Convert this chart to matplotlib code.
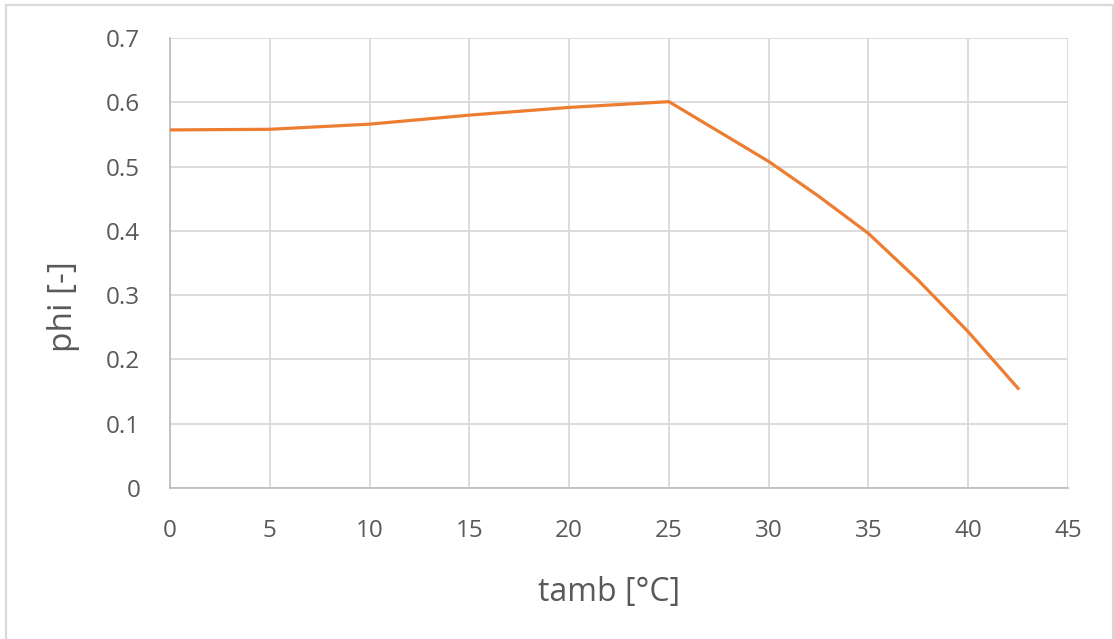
import matplotlib
matplotlib.use("Agg")
import matplotlib.pyplot as plt
from matplotlib.patches import Rectangle

# ambient temperature [°C] and phi [-]
t_amb = [0, 5, 10, 15, 20, 25, 30, 32.5, 35, 37.5, 40, 42.5]
phi = [0.557, 0.558, 0.566, 0.580, 0.592, 0.601, 0.508, 0.454, 0.396, 0.323, 0.243, 0.155]

x_ticks = [0, 5, 10, 15, 20, 25, 30, 35, 40, 45]
y_ticks = [0, 0.1, 0.2, 0.3, 0.4, 0.5, 0.6, 0.7]
y_tick_labels = ["0", "0.1", "0.2", "0.3", "0.4", "0.5", "0.6", "0.7"]

text_col = "#595959"
grid_col = "#d9d9d9"
axis_col = "#bfbfbf"
line_col = "#ED7D31"
font = "Open Sans"

W, H = 1114, 639
fig = plt.figure(figsize=(W / 100, H / 100), dpi=100)
fig.patch.set_facecolor("white")

# outer chart frame (bottom edge runs past the canvas)
fig.patches.append(Rectangle((6 / W, -10 / H), (1112.5 - 6) / W, (H - 5 + 10) / H,
                             transform=fig.transFigure, fill=False,
                             edgecolor="#d9d9d9", linewidth=1.6))

left, right, top, bottom = 170, 1068, 38, 488
ax = fig.add_axes([left / W, 1 - bottom / H, (right - left) / W, (bottom - top) / H])

ax.plot(t_amb, phi, color=line_col, linewidth=2.3, solid_joinstyle="round", zorder=3)

ax.set_xlim(0, 45)
ax.set_ylim(0, 0.7)
ax.set_xticks(x_ticks)
ax.set_yticks(y_ticks)
ax.set_xticklabels([str(v) for v in x_ticks], fontsize=17.5, color=text_col, fontfamily=font)
ax.set_yticklabels(y_tick_labels, fontsize=17.5, color=text_col, fontfamily=font)
ax.tick_params(axis="x", length=0, pad=22)
ax.tick_params(axis="y", length=0, pad=21.5)

ax.grid(True, color=grid_col, linewidth=1.3, zorder=0)
ax.set_axisbelow(True)
for side in ["top", "right"]:
    ax.spines[side].set_visible(False)
for side in ["left", "bottom"]:
    ax.spines[side].set_color(axis_col)
    ax.spines[side].set_linewidth(1.3)

# axis titles
fig.text(64 / W, 1 - 307 / H, "phi [-]", rotation=90, ha="center", va="center",
         fontsize=24, color=text_col, fontfamily=font)
fig.text(609 / W, 1 - 593 / H, "tamb [°C]", ha="center", va="center",
         fontsize=23, color=text_col, fontfamily=font)

fig.savefig("out.png", dpi=100, facecolor="white")
